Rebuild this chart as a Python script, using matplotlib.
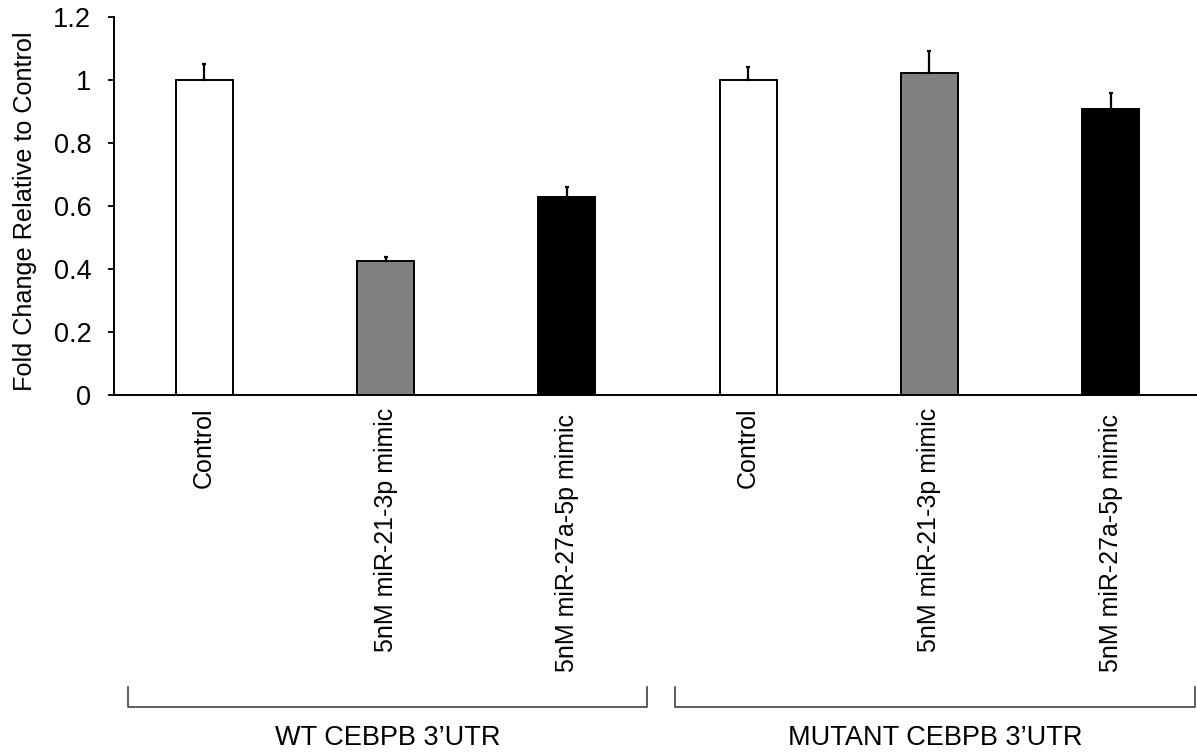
import matplotlib
matplotlib.use("Agg")
import matplotlib.pyplot as plt
from matplotlib.transforms import ScaledTranslation

categories = ["Control", "5nM miR-21-3p mimic", "5nM miR-27a-5p mimic",
              "Control", "5nM miR-21-3p mimic", "5nM miR-27a-5p mimic"]
values = [1.0, 0.424, 0.629, 1.0, 1.023, 0.908]
errors = [0.052, 0.013, 0.032, 0.040, 0.068, 0.051]
colors = ["white", "#808080", "black", "white", "#808080", "black"]
groups = ["WT CEBPB 3\u2019UTR", "MUTANT CEBPB 3\u2019UTR"]
yticks = [0, 0.2, 0.4, 0.6, 0.8, 1.0, 1.2]
ytick_labels = ["0", "0.2", "0.4", "0.6", "0.8", "1", "1.2"]

plt.rcParams['font.family'] = ['Liberation Sans', 'DejaVu Sans']
W, H = 1197, 753
fig = plt.figure(figsize=(W / 100, H / 100), dpi=100)

left_px, right_px, top_px, bot_px = 113.5, 1201.5, 17, 395
ax = fig.add_axes([left_px / W, 1 - bot_px / H, (right_px - left_px) / W, (bot_px - top_px) / H])

x = list(range(len(values)))
ax.bar(x, values, width=0.315, color=colors, edgecolor="black", linewidth=1.4, zorder=2)
ax.errorbar(x, values, yerr=[[0] * len(errors), errors], fmt="none", ecolor="black",
            elinewidth=1.6, capsize=1.5, capthick=1.6, zorder=3)

ax.set_xlim(-0.5, 5.5)
ax.set_ylim(0, 1.2)
ax.set_yticks(yticks)
ax.set_yticklabels(ytick_labels, fontsize=19.5)
ax.set_xticks(x)
ax.set_xticklabels(categories, rotation=90, fontsize=18, va="top", ha="center")
ax.tick_params(axis="x", length=0, pad=9.0)
ax.tick_params(axis="y", length=4.5, width=1.3, direction="out", pad=11.5)
for i, lbl in enumerate(ax.get_xticklabels()):
    if "27a" in lbl.get_text():
        lbl.set_transform(lbl.get_transform() + ScaledTranslation(0, -6 / 100, fig.dpi_scale_trans))
for s in ["top", "right"]:
    ax.spines[s].set_visible(False)
ax.spines["left"].set_linewidth(1.4)
ax.spines["bottom"].set_linewidth(1.4)

fig.text(25 / W, 1 - 211 / H, "Fold Change Relative to Control", rotation=90,
         ha="center", va="center", fontsize=18.2)

# group brackets
brackets = [(128, 647), (675, 1195)]
for (x0, x1), g in zip(brackets, groups):
    yb = 1 - 707 / H
    yt = 1 - 687 / H
    fig.add_artist(plt.Line2D([x0 / W, x0 / W, x1 / W, x1 / W], [yt, yb, yb, yt],
                              transform=fig.transFigure, color="#404040", linewidth=1.2))
    fig.text((x0 + x1) / 2 / W, 1 - 738 / H, g, ha="center", va="center", fontsize=19.5)

fig.savefig("out.png", dpi=100)
